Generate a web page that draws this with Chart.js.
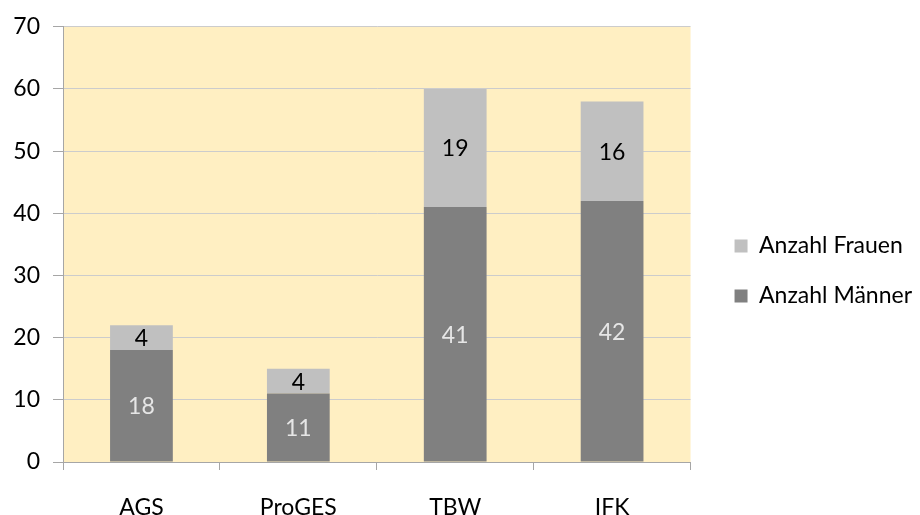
<!DOCTYPE html>
<html><head><meta charset="utf-8">
<script src="https://cdn.jsdelivr.net/npm/chart.js@4/dist/chart.umd.min.js"></script>
<style>html,body{margin:0;padding:0;background:#fff}#wrap{width:920px;height:515px}</style>
</head><body><div id="wrap"><canvas id="c" width="920" height="515"></canvas></div>
<script>
const categories = ["AGS", "ProGES", "TBW", "IFK"];
const maenner = [18, 11, 41, 42];
const frauen = [4, 4, 19, 16];
const seriesNames = ["Anzahl Männer", "Anzahl Frauen"];
const yTicks = [0, 10, 20, 30, 40, 50, 60, 70];

const FONT = "Lato, 'Liberation Sans', sans-serif";
const FS = 23;

const bgPlugin = {
  id: 'bg',
  beforeDraw(chart) {
    const a = chart.chartArea, ctx = chart.ctx;
    ctx.save(); ctx.fillStyle = '#FFEFC2';
    ctx.fillRect(a.left, a.top, a.right - a.left, a.bottom - a.top);
    ctx.restore();
  }
};
const legendShift = {
  id: 'legendShift',
  afterLayout(chart) {
    const l = chart.legend; if (!l) return;
    const dx = 17, dy = 2;
    l.left += dx; l.right += dx; l.top += dy; l.bottom += dy;
  }
};
const labelsPlugin = {
  id: 'vals',
  afterDatasetsDraw(chart) {
    const ctx = chart.ctx;
    ctx.save();
    ctx.font = FS + "px " + FONT;
    ctx.textAlign = 'center'; ctx.textBaseline = 'middle';
    chart.data.datasets.forEach((ds, i) => {
      const meta = chart.getDatasetMeta(i);
      ctx.fillStyle = i === 0 ? '#E6E6E6' : '#000000';
      meta.data.forEach((el, j) => {
        const p = el.getProps(['x', 'y', 'base'], true);
        ctx.fillText(String(ds.data[j]), p.x, (p.y + p.base) / 2 + 1);
      });
    });
    ctx.restore();
  }
};

new Chart(document.getElementById('c'), {
  type: 'bar',
  data: {
    labels: categories,
    datasets: [
      { label: seriesNames[0], data: maenner, backgroundColor: '#808080', categoryPercentage: 1, barPercentage: 0.4 },
      { label: seriesNames[1], data: frauen, backgroundColor: '#C0C0C0', categoryPercentage: 1, barPercentage: 0.4 }
    ]
  },
  options: {
    responsive: false, animation: false,
    layout: { padding: { top: 23, left: 0, right: 15, bottom: 0 } },
    plugins: {
      tooltip: { enabled: false },
      legend: {
        position: 'right', reverse: true,
        labels: { boxWidth: 13, boxHeight: 13, padding: 27, color: '#000', font: { family: FONT, size: FS } }
      }
    },
    scales: {
      x: {
        stacked: true,
        grid: { display: true, drawOnChartArea: false, offset: true, tickLength: 8, color: '#A6A6A6' },
        border: { color: '#A6A6A6' },
        ticks: { padding: 24, color: '#000', font: { family: FONT, size: FS } },
        afterFit(s) { s.height = 53; }
      },
      y: {
        stacked: true, min: 0, max: 70,
        afterBuildTicks(s) { s.ticks = yTicks.map(v => ({ value: v })); },
        grid: { color: '#CCCCCC', tickLength: 10, tickColor: '#A6A6A6' },
        border: { color: '#A6A6A6' },
        ticks: { padding: 13, color: '#000', font: { family: FONT, size: FS } },
        afterFit(s) { s.width = 63; }
      }
    }
  },
  plugins: [bgPlugin, legendShift, labelsPlugin]
});
</script></body></html>
